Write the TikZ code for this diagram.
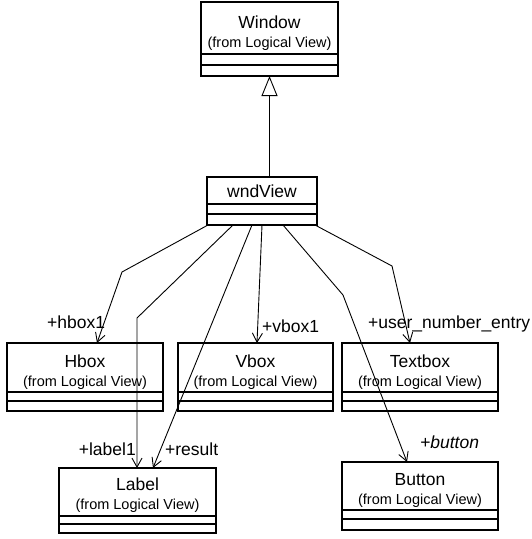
\documentclass[tikz,border=0pt]{standalone}
\usepackage{fontspec}
\setmainfont{Liberation Sans}
\usetikzlibrary{arrows.meta,calc}
\begin{document}
\begin{tikzpicture}[x=1pt,y=-1pt,
  cls/.style={draw,line width=1.2pt,anchor=north west,inner sep=0pt,outer sep=0pt},
  sepline/.style={line width=1.1pt},
  cname/.style={anchor=base,inner sep=0pt,font=\fontsize{17.5}{20}\selectfont},
  cfrom/.style={anchor=base,inner sep=0pt,font=\fontsize{14.5}{17}\selectfont},
  role/.style={inner sep=0pt,font=\fontsize{17.5}{20}\selectfont},
  assoc/.style={line width=0.9pt,-{Straight Barb[length=9pt,width=10pt]}},
  gen/.style={line width=0.9pt,-{Triangle[open,length=20pt,width=16pt,fill=white]}}]
\useasboundingbox[fill=white] (0,0) rectangle (532,539);

% Window
\node[cls,minimum width=137pt,minimum height=74pt] (win) at (201,2) {};
\node[cname] (winN) at ($(win.north)+(0,26)$) {Window};
\node[cfrom] (winF) at ($(win.north)+(0,45)$) {(from Logical View)};
\draw[sepline] ($(win.north west)+(0,52)$) -- ($(win.north east)+(0,52)$);
\draw[sepline] ($(win.north west)+(0,63)$) -- ($(win.north east)+(0,63)$);

% wndView
\node[cls,minimum width=110pt,minimum height=48pt] (wnd) at (207,177) {};
\node[cname] (wndN) at ($(wnd.north)+(0,20)$) {wndView};
\draw[sepline] ($(wnd.north west)+(0,27)$) -- ($(wnd.north east)+(0,27)$);
\draw[sepline] ($(wnd.north west)+(0,37)$) -- ($(wnd.north east)+(0,37)$);

% Hbox
\node[cls,minimum width=156pt,minimum height=68pt] (hbox) at (7,343) {};
\node[cname] (hboxN) at ($(hbox.north)+(0,24)$) {Hbox};
\node[cfrom] (hboxF) at ($(hbox.north)+(0,43)$) {(from Logical View)};
\draw[sepline] ($(hbox.north west)+(0,49)$) -- ($(hbox.north east)+(0,49)$);
\draw[sepline] ($(hbox.north west)+(0,58)$) -- ($(hbox.north east)+(0,58)$);

% Vbox
\node[cls,minimum width=155pt,minimum height=68pt] (vbox) at (178,343) {};
\node[cname] (vboxN) at ($(vbox.north)+(0,24)$) {Vbox};
\node[cfrom] (vboxF) at ($(vbox.north)+(0,43)$) {(from Logical View)};
\draw[sepline] ($(vbox.north west)+(0,49)$) -- ($(vbox.north east)+(0,49)$);
\draw[sepline] ($(vbox.north west)+(0,58)$) -- ($(vbox.north east)+(0,58)$);

% Textbox
\node[cls,minimum width=156pt,minimum height=68pt] (tbox) at (342,343) {};
\node[cname] (tboxN) at ($(tbox.north)+(0,24)$) {Textbox};
\node[cfrom] (tboxF) at ($(tbox.north)+(0,43)$) {(from Logical View)};
\draw[sepline] ($(tbox.north west)+(0,49)$) -- ($(tbox.north east)+(0,49)$);
\draw[sepline] ($(tbox.north west)+(0,58)$) -- ($(tbox.north east)+(0,58)$);

% Label
\node[cls,minimum width=157pt,minimum height=65pt] (lab) at (59,468) {};
\node[cname] (labN) at ($(lab.north)+(0,22)$) {Label};
\node[cfrom] (labF) at ($(lab.north)+(0,41)$) {(from Logical View)};
\draw[sepline] ($(lab.north west)+(0,48)$) -- ($(lab.north east)+(0,48)$);
\draw[sepline] ($(lab.north west)+(0,56)$) -- ($(lab.north east)+(0,56)$);

% Button
\node[cls,minimum width=156pt,minimum height=68pt] (btn) at (342,462) {};
\node[cname] (btnN) at ($(btn.north)+(0,23)$) {Button};
\node[cfrom] (btnF) at ($(btn.north)+(0,42)$) {(from Logical View)};
\draw[sepline] ($(btn.north west)+(0,48)$) -- ($(btn.north east)+(0,48)$);
\draw[sepline] ($(btn.north west)+(0,57)$) -- ($(btn.north east)+(0,57)$);

% generalization
\draw[gen] (wnd.north -| win.south) -- (win.south);

% bend points
\coordinate (b1) at (122,272);
\coordinate (b2) at (137,318);
\coordinate (b5) at (343,295);
\coordinate (b6) at (392,266);

% associations
\draw[assoc] ($(wnd.south west)+(1,0)$) -- (b1) -- ($(hbox.north west)+(90,0)$);
\draw[assoc] ($(wnd.south west)+(26,0)$) -- (b2) -- ($(lab.north west)+(78,0)$);
\draw[assoc] ($(wnd.south west)+(45,0)$) -- ($(lab.north west)+(94,0)$);
\draw[assoc] ($(wnd.south west)+(55,0)$) -- ($(vbox.north west)+(79,0)$);
\draw[assoc] ($(wnd.south west)+(76,0)$) -- (b5) -- ($(btn.north west)+(65,0)$);
\draw[assoc] ($(wnd.south west)+(108,0)$) -- (b6) -- ($(tbox.north west)+(68,0)$);

% role names
\node[role,anchor=base west] (rh) at (47,328) {+hbox1};
\node[role,anchor=base west] (rv) at (262,332) {+vbox1};
\node[role,anchor=base west] (rt) at (368,328) {+user\_number\_entry};
\node[role,anchor=base east] (rl) at (136,455) {+label1};
\node[role,anchor=base west] (rr) at (165,455) {+result};
\node[role,anchor=base west] (rb) at (420,448) {\itshape +button};
\end{tikzpicture}
\end{document}
